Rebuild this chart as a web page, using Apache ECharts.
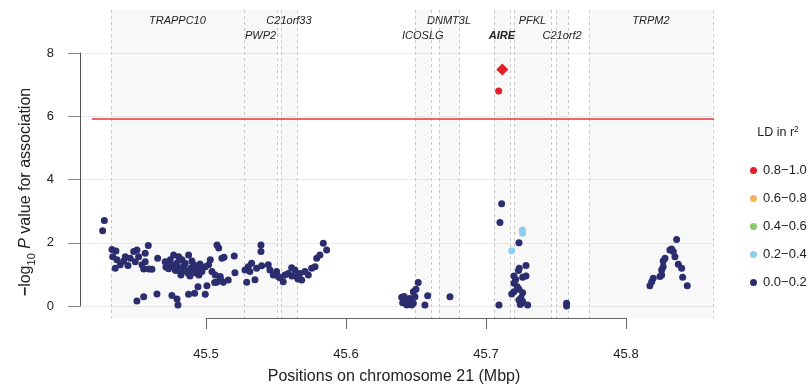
<!DOCTYPE html>
<html>
<head>
<meta charset="utf-8">
<script src="https://cdn.jsdelivr.net/npm/echarts@6/dist/echarts.min.js"></script>
<style>html,body{margin:0;padding:0;background:#fff}#c{width:808px;height:389px}</style>
</head>
<body>
<div id="c"></div>
<script>
// ---------- data ----------
const geneNames = ['TRAPPC10','PWP2','C21orf33','ICOSLG','DNMT3L','AIRE','PFKL','C21orf2','TRPM2'];
const geneStart = [45.4321, 45.5275, 45.5534, 45.6493, 45.6664, 45.7057, 45.7200, 45.7500, 45.7738];
const geneEnd   = [45.5271, 45.5505, 45.5652, 45.6605, 45.6809, 45.7171, 45.7464, 45.7588, 45.8619];
const highlightGene = 'AIRE';

const xTicks = [45.5, 45.6, 45.7, 45.8];
const yTicks = [0, 2, 4, 6, 8];
const thresholdLogP = 5.9;

const ldBins = ['0.8\u22121.0', '0.6\u22120.8', '0.4\u22120.6', '0.2\u22120.4', '0.0\u22120.2'];

// r2 0.0-0.2
const lowPos = [
45.4274,45.4262,45.4329,45.4357,45.4334,45.4364,45.4352,45.4388,45.4412,45.4424,45.4443,45.4459,45.4484,45.4507,45.4495,45.4519,45.4543,45.4566,45.4588,45.4555,45.4591,45.4614,45.4566,
45.4655,45.4709,45.4745,45.4769,45.4776,45.4805,45.4781,45.4829,45.4852,45.4876,45.4900,45.4912,45.4924,45.4948,45.4971,45.4995,45.5031,45.5019,45.5043,45.5066,45.5079,45.5091,45.5102,45.5114,
45.4800,45.4821,45.4850,45.4871,45.4893,45.4843,45.4929,45.4957,45.4793,45.4886,45.4950,45.4821,45.4743,45.4714,
45.4507,45.4555,45.4650,45.4757,45.4793,45.4800,45.4876,45.4919,45.4943,45.4995,45.5007,45.5062,45.5102,
45.5129,45.5202,45.5207,45.5159,45.5124,45.5076,45.5291,45.5350,45.5279,45.5302,45.5326,45.5314,45.5362,45.5398,45.5445,45.5457,45.5481,45.5505,45.5516,45.5552,45.5564,45.5588,45.5612,45.5636,45.5648,45.5671,45.5684,45.5707,45.5731,45.5755,45.5779,45.5791,45.5814,45.5838,45.5862,45.5393,45.5393,45.5529,45.5614,45.5657,
45.6398,45.6421,45.6445,45.6457,45.6434,45.6469,45.6481,45.6493,45.6481,45.6500,45.6516,45.6564,45.6584,45.6743,45.6405,45.6440,45.6462,45.6415,45.6450,
45.7112,45.7100,45.7236,45.7238,45.7286,45.7233,45.7200,45.7212,45.7286,45.7262,45.7200,45.7224,45.7236,45.7184,45.7200,45.7262,45.7236,45.7259,45.7262,45.7298,45.7093,45.7576,45.7576,45.7245,45.7250,
45.8362,45.8314,45.8338,45.8326,45.8350,45.8279,45.8266,45.8266,45.8255,45.8374,45.8398,45.8255,45.8243,45.8405,45.8195,45.8184,45.8171,45.8438,
45.4862,45.4838,45.4888,45.4910,45.4816,45.4940,45.4968,45.4785,45.4760,45.4733
];
const lowLogP = [
2.70,2.38,1.79,1.74,1.56,1.46,1.19,1.30,1.42,1.56,1.28,1.51,1.72,1.77,1.40,1.56,1.30,1.67,1.91,1.17,1.17,1.16,1.40,
1.51,1.40,1.46,1.61,1.24,1.56,1.14,1.46,1.35,1.61,1.42,1.30,1.14,1.19,1.09,1.24,1.46,1.30,1.09,0.98,1.93,1.83,0.93,1.51,
1.20,1.08,1.14,1.04,1.20,1.27,1.04,1.33,1.36,0.95,0.98,0.98,1.30,1.23,
0.16,0.29,0.38,0.33,0.22,0.03,0.37,0.40,0.61,0.37,0.64,0.74,0.88,
1.54,1.58,1.05,0.82,0.75,0.75,0.75,0.83,1.14,1.24,1.35,1.09,1.19,1.27,1.30,1.14,0.98,1.09,0.93,0.77,0.98,1.03,1.21,1.14,0.93,1.03,0.82,1.09,0.98,1.19,1.24,1.51,1.61,1.98,1.77,1.93,1.72,0.89,0.95,0.85,
0.28,0.19,0.14,0.24,0.03,0.03,0.09,0.29,0.45,0.53,0.74,0.03,0.32,0.29,0.10,0.22,0.12,0.30,0.05,
3.23,2.64,2.00,1.19,1.28,1.12,0.95,0.84,0.95,0.91,0.72,0.61,0.53,0.38,0.45,0.42,0.19,0.10,0.14,0.03,0.03,0.09,0.00,0.05,0.25,
2.10,1.77,1.72,1.80,1.56,1.51,1.42,1.24,1.14,1.32,1.19,0.98,0.93,0.91,0.88,0.77,0.64,0.64,
1.10,1.22,1.12,1.25,1.15,1.10,1.18,1.12,1.28,1.18
];
// r2 0.2-0.4
const midPos = [45.7260, 45.7262, 45.7184];
const midLogP = [2.40, 2.30, 1.75];
// r2 0.8-1.0
const highPos = [45.7091];
const highLogP = [6.80];
// lead SNP
const leadPos = [45.7117];
const leadLogP = [7.48];

// ---------- chart ----------
const FONT = '"Liberation Sans", Arial, Helvetica, sans-serif';
const COLORS = {hi:'#e31e26', o:'#f7a12f', g:'#6abc45', lb:'#8dcfee', nv:'#2b2d6e', thr:'#e8333a'};
const zip = (a, b) => a.map((v, i) => [v, b[i]]);

const chart = echarts.init(document.getElementById('c'), null, {renderer: 'canvas'});

const geneData = geneNames.map((n, i) => [geneStart[i], geneEnd[i], i]);

function renderGene(params, api) {
  const cs = params.coordSys;
  const s = api.coord([api.value(0), 0])[0];
  const e = api.coord([api.value(1), 0])[0];
  const i = api.value(2);
  const name = geneNames[i];
  const top = cs.y, h = cs.height;
  const ls = {stroke: '#c6c6c6', lineWidth: 1, lineDash: [3, 3]};
  return {
    type: 'group',
    children: [
      {type: 'rect', shape: {x: s, y: top, width: e - s, height: h}, style: {fill: 'rgba(0,0,0,0.028)'}},
      {type: 'line', shape: {x1: Math.round(s) + 0.5, y1: top, x2: Math.round(s) + 0.5, y2: top + h}, style: ls},
      {type: 'line', shape: {x1: Math.round(e) + 0.5, y1: top, x2: Math.round(e) + 0.5, y2: top + h}, style: ls},
      {type: 'text', x: (s + e) / 2, y: top + (i % 2 === 0 ? 11 : 26),
       style: {text: name, align: 'center', verticalAlign: 'middle', fontSize: 11,
               fontStyle: 'italic', fontWeight: name === highlightGene ? 'bold' : 'normal',
               fontFamily: FONT, fill: '#222'}}
    ]
  };
}

function renderThreshold(params, api) {
  const cs = params.coordSys;
  const y = Math.round(api.coord([0, api.value(0)])[1]);
  return {type: 'line', shape: {x1: cs.x, y1: y, x2: cs.x + cs.width, y2: y},
          style: {stroke: COLORS.thr, lineWidth: 1.6}};
}

const option = {
  animation: false,
  backgroundColor: '#fff',
  textStyle: {fontFamily: FONT},
  grid: [
    {left: 92, right: 94, top: 10, bottom: 71},            // main plot
    {left: 206, width: 420, top: 317, height: 1},           // R-style x axis
    {left: 80, right: 94, top: 53, height: 253}             // R-style y axis + gridlines
  ],
  xAxis: [
    {gridIndex: 0, type: 'value', min: 45.4186, max: 45.8629, show: false},
    {gridIndex: 1, type: 'value', min: xTicks[0], max: xTicks[xTicks.length - 1], interval: 0.1,
     axisLine: {show: true, lineStyle: {color: '#666', width: 1}},
     axisTick: {show: true, inside: false, length: 11, lineStyle: {color: '#666'}},
     axisLabel: {show: true, margin: 30, fontSize: 13, color: '#222', fontFamily: FONT,
                 formatter: v => v.toFixed(1)},
     splitLine: {show: false}},
    {gridIndex: 2, type: 'value', min: 0, max: 1, show: false}
  ],
  yAxis: [
    {gridIndex: 0, type: 'value', min: -0.38, max: 9.36, show: false},
    {gridIndex: 1, type: 'value', min: 0, max: 1, show: false},
    {gridIndex: 2, type: 'value', min: yTicks[0], max: yTicks[yTicks.length - 1], interval: 2,
     axisLine: {show: true, lineStyle: {color: '#555', width: 1}},
     axisTick: {show: true, inside: false, length: 12, lineStyle: {color: '#888'}},
     axisLabel: {show: true, margin: 26, fontSize: 13, color: '#222', fontFamily: FONT},
     splitLine: {show: true, lineStyle: {color: '#ececec', width: 1}}}
  ],
  legend: {
    orient: 'vertical', left: 745, top: 159,
    data: ldBins, icon: 'circle', itemWidth: 7, itemHeight: 7, itemGap: 15,
    selectedMode: false,
    textStyle: {fontSize: 13, color: '#222', fontFamily: FONT, padding: [0, 0, 0, 1]}
  },
  graphic: [
    {type: 'text', x: 394, y: 377,
     style: {text: 'Positions on chromosome 21 (Mbp)', align: 'center', verticalAlign: 'middle',
             fontSize: 16, fontFamily: FONT, fill: '#222'}},
    {type: 'text', x: 26, y: 192, rotation: Math.PI / 2,
     style: {text: '{b|\u2212}log{s|10} {i|P} value for association', align: 'center', verticalAlign: 'middle',
             fontSize: 16, fontFamily: FONT, fill: '#222', lineHeight: 22,
             rich: {
               b: {fontSize: 16, fontWeight: 'bold', fontFamily: FONT, fill: '#222', lineHeight: 22},
               s: {fontSize: 11, fontFamily: FONT, fill: '#222', lineHeight: 10, verticalAlign: 'bottom'},
               i: {fontSize: 16, fontStyle: 'italic', fontFamily: FONT, fill: '#222', lineHeight: 22}
             }}},
    {type: 'text', x: 778, y: 133,
     style: {text: 'LD in r{p|2}', align: 'center', verticalAlign: 'middle',
             fontSize: 12.5, fontFamily: FONT, fill: '#222', lineHeight: 16,
             rich: {p: {fontSize: 8.5, fontFamily: FONT, fill: '#222', lineHeight: 8, verticalAlign: 'top'}}}}
  ],
  series: [
    {type: 'custom', name: 'genes', xAxisIndex: 0, yAxisIndex: 0, data: geneData,
     renderItem: renderGene, z: 1, silent: true, clip: false},
    {type: 'custom', name: 'threshold', xAxisIndex: 0, yAxisIndex: 0, data: [[thresholdLogP]],
     encode: {y: 0}, renderItem: renderThreshold, z: 2, silent: true},
    {type: 'scatter', name: ldBins[4], xAxisIndex: 0, yAxisIndex: 0, z: 3,
     data: zip(lowPos, lowLogP), symbol: 'circle', symbolSize: 7,
     itemStyle: {color: COLORS.nv, opacity: 1}},
    {type: 'scatter', name: ldBins[3], xAxisIndex: 0, yAxisIndex: 0, z: 4,
     data: zip(midPos, midLogP), symbol: 'circle', symbolSize: 7,
     itemStyle: {color: COLORS.lb, opacity: 1}},
    {type: 'scatter', name: ldBins[2], xAxisIndex: 0, yAxisIndex: 0, z: 4,
     data: [], symbol: 'circle', symbolSize: 7, itemStyle: {color: COLORS.g}},
    {type: 'scatter', name: ldBins[1], xAxisIndex: 0, yAxisIndex: 0, z: 4,
     data: [], symbol: 'circle', symbolSize: 7, itemStyle: {color: COLORS.o}},
    {type: 'scatter', name: ldBins[0], xAxisIndex: 0, yAxisIndex: 0, z: 5,
     data: zip(highPos, highLogP).concat(zip(leadPos, leadLogP).map(p => ({value: p, symbol: 'diamond', symbolSize: 12}))),
     symbol: 'circle', symbolSize: 7, itemStyle: {color: COLORS.hi, opacity: 1}}
  ]
};
chart.setOption(option);
</script>
</body>
</html>
